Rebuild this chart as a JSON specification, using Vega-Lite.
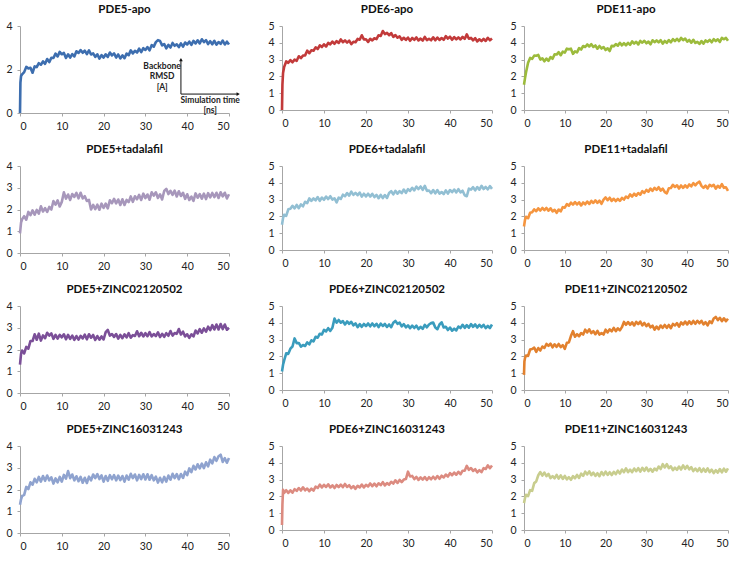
{
"$schema": "https://vega.github.io/schema/vega-lite/v6.json",
"padding": {"left": 5, "top": 3, "right": 4, "bottom": 2},
"config": {
 "view": {"stroke": null},
 "font": "Lato",
 "title": {"fontSize": 11.5, "fontWeight": "bold", "font": "Lato", "color": "#111", "offset": 6, "anchor": "middle"},
 "axis": {"grid": false, "title": null, "domainColor": "#a6a6a6", "tickColor": "#a6a6a6", "tickSize": 3, "labelFontSize": 10.5, "labelColor": "#222", "labelFont": "Lato"},
 "axisX": {"labelPadding": 5},
 "axisY": {"labelPadding": 5},
 "line": {"strokeWidth": 2.6, "strokeJoin": "round"}
},
"hconcat": [
 {"spacing": 11, "vconcat": [
  {"title": "PDE5-apo", "width": 209, "height": 87, "layer": [
   {"data": {"name": "d1"}, "mark": {"type": "line", "color": "#3d6eaf"}, "encoding": {"x": {"field": "t", "type": "quantitative", "scale": {"domain": [0, 50]}, "axis": {"values": [0,10,20,30,40,50]}}, "y": {"field": "r", "type": "quantitative", "scale": {"domain": [0, 4]}, "axis": {"values": [0,1,2,3,4]}}}},
   {"data": {"values": [{"x": 38.5, "y": 0.87, "y2": 2.45}]}, "mark": {"type": "rule", "color": "#111", "strokeWidth": 1}, "encoding": {"x": {"field": "x", "type": "quantitative", "scale": {"domain": [0, 50]}}, "y": {"field": "y", "type": "quantitative", "scale": {"domain": [0, 4]}}, "y2": {"field": "y2"}}},
   {"data": {"values": [{"x": 38.5, "x2": 52, "y": 0.87}]}, "mark": {"type": "rule", "color": "#111", "strokeWidth": 1}, "encoding": {"x": {"field": "x", "type": "quantitative", "scale": {"domain": [0, 50]}}, "x2": {"field": "x2"}, "y": {"field": "y", "type": "quantitative", "scale": {"domain": [0, 4]}}}},
   {"data": {"values": [{"x": 38.5, "y": 2.45}]}, "mark": {"type": "point", "shape": "triangle-up", "filled": true, "size": 14, "color": "#111", "opacity": 1}, "encoding": {"x": {"field": "x", "type": "quantitative", "scale": {"domain": [0, 50]}}, "y": {"field": "y", "type": "quantitative", "scale": {"domain": [0, 4]}}}},
   {"data": {"values": [{"x": 52.2, "y": 0.87}]}, "mark": {"type": "point", "shape": "triangle-right", "filled": true, "size": 14, "color": "#111", "opacity": 1}, "encoding": {"x": {"field": "x", "type": "quantitative", "scale": {"domain": [0, 50]}}, "y": {"field": "y", "type": "quantitative", "scale": {"domain": [0, 4]}}}},
   {"data": {"values": [{"x": 34, "y": 2.16, "txt": "Backbone"}, {"x": 34, "y": 1.68, "txt": "RMSD"}, {"x": 34, "y": 1.2, "txt": "[A]"}, {"x": 45.5, "y": 0.62, "txt": "Simulation time"}, {"x": 45.5, "y": 0.15, "txt": "[ns]"}]}, "mark": {"type": "text", "font": "Lato", "fontWeight": "bold", "fontSize": 8.5, "color": "#222"}, "encoding": {"x": {"field": "x", "type": "quantitative", "scale": {"domain": [0, 50]}}, "y": {"field": "y", "type": "quantitative", "scale": {"domain": [0, 4]}}, "text": {"field": "txt"}}}
  ]},
  {"title": "PDE5+tadalafil", "width": 209, "height": 87, "data": {"name": "d4"}, "mark": {"type": "line", "color": "#a797bb"}, "encoding": {"x": {"field": "t", "type": "quantitative", "scale": {"domain": [0, 50]}, "axis": {"values": [0,10,20,30,40,50]}}, "y": {"field": "r", "type": "quantitative", "scale": {"domain": [0, 4]}, "axis": {"values": [0,1,2,3,4]}}}},
  {"title": "PDE5+ZINC02120502", "width": 209, "height": 87, "data": {"name": "d7"}, "mark": {"type": "line", "color": "#7b4f98"}, "encoding": {"x": {"field": "t", "type": "quantitative", "scale": {"domain": [0, 50]}, "axis": {"values": [0,10,20,30,40,50]}}, "y": {"field": "r", "type": "quantitative", "scale": {"domain": [0, 4]}, "axis": {"values": [0,1,2,3,4]}}}},
  {"title": "PDE5+ZINC16031243", "width": 209, "height": 87, "data": {"name": "d10"}, "mark": {"type": "line", "color": "#8fa3cf"}, "encoding": {"x": {"field": "t", "type": "quantitative", "scale": {"domain": [0, 50]}, "axis": {"values": [0,10,20,30,40,50]}}, "y": {"field": "r", "type": "quantitative", "scale": {"domain": [0, 4]}, "axis": {"values": [0,1,2,3,4]}}}}
 ]},
 {"spacing": 15, "hconcat": [
  {"spacing": 14, "vconcat": [
   {"title": "PDE6-apo", "width": 210, "height": 84, "data": {"name": "d2"}, "mark": {"type": "line", "color": "#c23a3a"}, "encoding": {"x": {"field": "t", "type": "quantitative", "scale": {"domain": [0, 50]}, "axis": {"values": [0,10,20,30,40,50]}}, "y": {"field": "r", "type": "quantitative", "scale": {"domain": [0, 5]}, "axis": {"values": [0,1,2,3,4,5]}}}},
   {"title": "PDE6+tadalafil", "width": 210, "height": 84, "data": {"name": "d5"}, "mark": {"type": "line", "color": "#92bfd3"}, "encoding": {"x": {"field": "t", "type": "quantitative", "scale": {"domain": [0, 50]}, "axis": {"values": [0,10,20,30,40,50]}}, "y": {"field": "r", "type": "quantitative", "scale": {"domain": [0, 5]}, "axis": {"values": [0,1,2,3,4,5]}}}},
   {"title": "PDE6+ZINC02120502", "width": 210, "height": 84, "data": {"name": "d8"}, "mark": {"type": "line", "color": "#3a9cbd"}, "encoding": {"x": {"field": "t", "type": "quantitative", "scale": {"domain": [0, 50]}, "axis": {"values": [0,10,20,30,40,50]}}, "y": {"field": "r", "type": "quantitative", "scale": {"domain": [0, 5]}, "axis": {"values": [0,1,2,3,4,5]}}}},
   {"title": "PDE6+ZINC16031243", "width": 210, "height": 84, "data": {"name": "d11"}, "mark": {"type": "line", "color": "#dc8b80"}, "encoding": {"x": {"field": "t", "type": "quantitative", "scale": {"domain": [0, 50]}, "axis": {"values": [0,10,20,30,40,50]}}, "y": {"field": "r", "type": "quantitative", "scale": {"domain": [0, 5]}, "axis": {"values": [0,1,2,3,4,5]}}}}
  ]},
  {"spacing": 14, "vconcat": [
   {"title": "PDE11-apo", "width": 204, "height": 84, "data": {"name": "d3"}, "mark": {"type": "line", "color": "#9cbb3c"}, "encoding": {"x": {"field": "t", "type": "quantitative", "scale": {"domain": [0, 50]}, "axis": {"values": [0,10,20,30,40,50]}}, "y": {"field": "r", "type": "quantitative", "scale": {"domain": [0, 5]}, "axis": {"values": [0,1,2,3,4,5]}}}},
   {"title": "PDE11+tadalafil", "width": 204, "height": 84, "data": {"name": "d6"}, "mark": {"type": "line", "color": "#f5953f"}, "encoding": {"x": {"field": "t", "type": "quantitative", "scale": {"domain": [0, 50]}, "axis": {"values": [0,10,20,30,40,50]}}, "y": {"field": "r", "type": "quantitative", "scale": {"domain": [0, 5]}, "axis": {"values": [0,1,2,3,4,5]}}}},
   {"title": "PDE11+ZINC02120502", "width": 204, "height": 84, "data": {"name": "d9"}, "mark": {"type": "line", "color": "#e2812e"}, "encoding": {"x": {"field": "t", "type": "quantitative", "scale": {"domain": [0, 50]}, "axis": {"values": [0,10,20,30,40,50]}}, "y": {"field": "r", "type": "quantitative", "scale": {"domain": [0, 5]}, "axis": {"values": [0,1,2,3,4,5]}}}},
   {"title": "PDE11+ZINC16031243", "width": 204, "height": 84, "data": {"name": "d12"}, "mark": {"type": "line", "color": "#c8cd8e"}, "encoding": {"x": {"field": "t", "type": "quantitative", "scale": {"domain": [0, 50]}, "axis": {"values": [0,10,20,30,40,50]}}, "y": {"field": "r", "type": "quantitative", "scale": {"domain": [0, 5]}, "axis": {"values": [0,1,2,3,4,5]}}}}
  ]}
 ]}
],
"spacing": 27,
"datasets": {
"d1": [{"t":0,"r":0},{"t":0.1,"r":1.4},{"t":0.25,"r":1.7},{"t":0.5,"r":1.78},{"t":1,"r":1.88},{"t":1.5,"r":2.12},{"t":2,"r":2.05},{"t":2.5,"r":2.08},{"t":3,"r":1.85},{"t":3.5,"r":2.14},{"t":4,"r":2.11},{"t":4.5,"r":2.29},{"t":5,"r":2.22},{"t":5.5,"r":2.37},{"t":6,"r":2.26},{"t":6.5,"r":2.48},{"t":7,"r":2.34},{"t":7.5,"r":2.54},{"t":8,"r":2.53},{"t":8.5,"r":2.73},{"t":9,"r":2.6},{"t":9.5,"r":2.81},{"t":10,"r":2.7},{"t":10.5,"r":2.76},{"t":11,"r":2.53},{"t":11.5,"r":2.7},{"t":12,"r":2.55},{"t":12.5,"r":2.71},{"t":13,"r":2.6},{"t":13.5,"r":2.84},{"t":14,"r":2.76},{"t":14.5,"r":2.89},{"t":15,"r":2.77},{"t":15.5,"r":2.87},{"t":16,"r":2.71},{"t":16.5,"r":2.88},{"t":17,"r":2.69},{"t":17.5,"r":2.74},{"t":18,"r":2.58},{"t":18.5,"r":2.7},{"t":19,"r":2.5},{"t":19.5,"r":2.66},{"t":20,"r":2.55},{"t":20.5,"r":2.7},{"t":21,"r":2.58},{"t":21.5,"r":2.78},{"t":22,"r":2.65},{"t":22.5,"r":2.74},{"t":23,"r":2.55},{"t":23.5,"r":2.69},{"t":24,"r":2.51},{"t":24.5,"r":2.65},{"t":25,"r":2.52},{"t":25.5,"r":2.73},{"t":26,"r":2.66},{"t":26.5,"r":2.88},{"t":27,"r":2.74},{"t":27.5,"r":2.86},{"t":28,"r":2.78},{"t":28.5,"r":2.96},{"t":29,"r":2.8},{"t":29.5,"r":2.98},{"t":30,"r":2.9},{"t":30.5,"r":3.03},{"t":31,"r":2.88},{"t":31.5,"r":3.12},{"t":32,"r":3.05},{"t":32.5,"r":3.26},{"t":33,"r":3.35},{"t":33.5,"r":3.31},{"t":34,"r":3.11},{"t":34.5,"r":3.17},{"t":35,"r":2.97},{"t":35.5,"r":3.13},{"t":36,"r":3.01},{"t":36.5,"r":3.22},{"t":37,"r":3.09},{"t":37.5,"r":3.16},{"t":38,"r":3.03},{"t":38.5,"r":3.2},{"t":39,"r":3.05},{"t":39.5,"r":3.24},{"t":40,"r":3.15},{"t":40.5,"r":3.28},{"t":41,"r":3.13},{"t":41.5,"r":3.32},{"t":42,"r":3.2},{"t":42.5,"r":3.34},{"t":43,"r":3.2},{"t":43.5,"r":3.39},{"t":44,"r":3.26},{"t":44.5,"r":3.35},{"t":45,"r":3.17},{"t":45.5,"r":3.3},{"t":46,"r":3.16},{"t":46.5,"r":3.32},{"t":47,"r":3.14},{"t":47.5,"r":3.26},{"t":48,"r":3.18},{"t":48.5,"r":3.33},{"t":49,"r":3.15},{"t":49.5,"r":3.28},{"t":50,"r":3.15}],
"d2": [{"t":0,"r":0},{"t":0.1,"r":1.5},{"t":0.25,"r":2.2},{"t":0.5,"r":2.55},{"t":1,"r":2.89},{"t":1.5,"r":2.81},{"t":2,"r":2.97},{"t":2.5,"r":2.84},{"t":3,"r":3.0},{"t":3.5,"r":2.93},{"t":4,"r":3.2},{"t":4.5,"r":3.09},{"t":5,"r":3.24},{"t":5.5,"r":3.25},{"t":6,"r":3.53},{"t":6.5,"r":3.38},{"t":7,"r":3.56},{"t":7.5,"r":3.53},{"t":8,"r":3.73},{"t":8.5,"r":3.63},{"t":9,"r":3.85},{"t":9.5,"r":3.75},{"t":10,"r":3.91},{"t":10.5,"r":3.78},{"t":11,"r":3.99},{"t":11.5,"r":3.91},{"t":12,"r":4.07},{"t":12.5,"r":3.94},{"t":13,"r":4.1},{"t":13.5,"r":3.99},{"t":14,"r":4.2},{"t":14.5,"r":4.04},{"t":15,"r":4.14},{"t":15.5,"r":4.01},{"t":16,"r":4.13},{"t":16.5,"r":3.92},{"t":17,"r":4.06},{"t":17.5,"r":4.03},{"t":18,"r":4.23},{"t":18.5,"r":4.18},{"t":19,"r":4.45},{"t":19.5,"r":4.2},{"t":20,"r":4.21},{"t":20.5,"r":4.05},{"t":21,"r":4.24},{"t":21.5,"r":4.14},{"t":22,"r":4.27},{"t":22.5,"r":4.22},{"t":23,"r":4.45},{"t":23.5,"r":4.41},{"t":24,"r":4.7},{"t":24.5,"r":4.52},{"t":25,"r":4.59},{"t":25.5,"r":4.45},{"t":26,"r":4.58},{"t":26.5,"r":4.35},{"t":27,"r":4.46},{"t":27.5,"r":4.3},{"t":28,"r":4.38},{"t":28.5,"r":4.18},{"t":29,"r":4.3},{"t":29.5,"r":4.17},{"t":30,"r":4.31},{"t":30.5,"r":4.12},{"t":31,"r":4.29},{"t":31.5,"r":4.18},{"t":32,"r":4.32},{"t":32.5,"r":4.14},{"t":33,"r":4.25},{"t":33.5,"r":4.13},{"t":34,"r":4.35},{"t":34.5,"r":4.16},{"t":35,"r":4.24},{"t":35.5,"r":4.15},{"t":36,"r":4.33},{"t":36.5,"r":4.15},{"t":37,"r":4.31},{"t":37.5,"r":4.17},{"t":38,"r":4.28},{"t":38.5,"r":4.18},{"t":39,"r":4.4},{"t":39.5,"r":4.25},{"t":40,"r":4.36},{"t":40.5,"r":4.18},{"t":41,"r":4.34},{"t":41.5,"r":4.21},{"t":42,"r":4.32},{"t":42.5,"r":4.2},{"t":43,"r":4.35},{"t":43.5,"r":4.23},{"t":44,"r":4.5},{"t":44.5,"r":4.24},{"t":45,"r":4.29},{"t":45.5,"r":4.15},{"t":46,"r":4.28},{"t":46.5,"r":4.08},{"t":47,"r":4.21},{"t":47.5,"r":4.1},{"t":48,"r":4.23},{"t":48.5,"r":4.11},{"t":49,"r":4.3},{"t":49.5,"r":4.15},{"t":50,"r":4.26}],
"d3": [{"t":0,"r":1.5},{"t":0.25,"r":1.9},{"t":0.5,"r":2.25},{"t":1,"r":2.81},{"t":1.5,"r":3.1},{"t":2,"r":3.04},{"t":2.5,"r":3.24},{"t":3,"r":3.23},{"t":3.5,"r":3.28},{"t":4,"r":3.0},{"t":4.5,"r":3.08},{"t":5,"r":2.9},{"t":5.5,"r":3.06},{"t":6,"r":2.93},{"t":6.5,"r":3.15},{"t":7,"r":3.05},{"t":7.5,"r":3.31},{"t":8,"r":3.3},{"t":8.5,"r":3.44},{"t":9,"r":3.26},{"t":9.5,"r":3.47},{"t":10,"r":3.42},{"t":10.5,"r":3.65},{"t":11,"r":3.61},{"t":11.5,"r":3.65},{"t":12,"r":3.34},{"t":12.5,"r":3.49},{"t":13,"r":3.43},{"t":13.5,"r":3.68},{"t":14,"r":3.6},{"t":14.5,"r":3.81},{"t":15,"r":3.75},{"t":15.5,"r":3.9},{"t":16,"r":3.78},{"t":16.5,"r":3.92},{"t":17,"r":3.75},{"t":17.5,"r":3.84},{"t":18,"r":3.65},{"t":18.5,"r":3.81},{"t":19,"r":3.66},{"t":19.5,"r":3.75},{"t":20,"r":3.57},{"t":20.5,"r":3.67},{"t":21,"r":3.51},{"t":21.5,"r":3.82},{"t":22,"r":3.79},{"t":22.5,"r":3.92},{"t":23,"r":3.83},{"t":23.5,"r":4.0},{"t":24,"r":3.85},{"t":24.5,"r":3.98},{"t":25,"r":3.85},{"t":25.5,"r":4.0},{"t":26,"r":3.88},{"t":26.5,"r":4.08},{"t":27,"r":3.95},{"t":27.5,"r":4.06},{"t":28,"r":3.9},{"t":28.5,"r":4.11},{"t":29,"r":4.01},{"t":29.5,"r":4.12},{"t":30,"r":3.97},{"t":30.5,"r":4.07},{"t":31,"r":3.91},{"t":31.5,"r":4.15},{"t":32,"r":4.04},{"t":32.5,"r":4.14},{"t":33,"r":4.03},{"t":33.5,"r":4.16},{"t":34,"r":3.95},{"t":34.5,"r":4.11},{"t":35,"r":4.0},{"t":35.5,"r":4.16},{"t":36,"r":4.03},{"t":36.5,"r":4.22},{"t":37,"r":4.1},{"t":37.5,"r":4.24},{"t":38,"r":4.1},{"t":38.5,"r":4.29},{"t":39,"r":4.16},{"t":39.5,"r":4.25},{"t":40,"r":4.07},{"t":40.5,"r":4.17},{"t":41,"r":4.01},{"t":41.5,"r":4.18},{"t":42,"r":3.99},{"t":42.5,"r":4.06},{"t":43,"r":3.93},{"t":43.5,"r":4.1},{"t":44,"r":3.95},{"t":44.5,"r":4.14},{"t":45,"r":4.05},{"t":45.5,"r":4.18},{"t":46,"r":4.03},{"t":46.5,"r":4.22},{"t":47,"r":4.1},{"t":47.5,"r":4.21},{"t":48,"r":4.05},{"t":48.5,"r":4.29},{"t":49,"r":4.21},{"t":49.5,"r":4.29},{"t":50,"r":4.12}],
"d4": [{"t":0,"r":0.9},{"t":0.25,"r":1.4},{"t":0.5,"r":1.55},{"t":1,"r":1.69},{"t":1.5,"r":1.53},{"t":2,"r":1.89},{"t":2.5,"r":1.74},{"t":3,"r":1.96},{"t":3.5,"r":1.76},{"t":4,"r":1.98},{"t":4.5,"r":1.81},{"t":5,"r":2.15},{"t":5.5,"r":1.91},{"t":6,"r":2.06},{"t":6.5,"r":1.89},{"t":7,"r":2.12},{"t":7.5,"r":2.0},{"t":8,"r":2.39},{"t":8.5,"r":2.22},{"t":9,"r":2.42},{"t":9.5,"r":2.14},{"t":10,"r":2.35},{"t":10.5,"r":2.79},{"t":11,"r":2.5},{"t":11.5,"r":2.69},{"t":12,"r":2.44},{"t":12.5,"r":2.71},{"t":13,"r":2.58},{"t":13.5,"r":2.76},{"t":14,"r":2.51},{"t":14.5,"r":2.77},{"t":15,"r":2.51},{"t":15.5,"r":2.61},{"t":16,"r":2.39},{"t":16.5,"r":2.44},{"t":17,"r":2.0},{"t":17.5,"r":2.21},{"t":18,"r":2.02},{"t":18.5,"r":2.22},{"t":19,"r":1.99},{"t":19.5,"r":2.27},{"t":20,"r":2.07},{"t":20.5,"r":2.27},{"t":21,"r":2.05},{"t":21.5,"r":2.42},{"t":22,"r":2.29},{"t":22.5,"r":2.49},{"t":23,"r":2.28},{"t":23.5,"r":2.46},{"t":24,"r":2.21},{"t":24.5,"r":2.47},{"t":25,"r":2.21},{"t":25.5,"r":2.44},{"t":26,"r":2.34},{"t":26.5,"r":2.6},{"t":27,"r":2.35},{"t":27.5,"r":2.61},{"t":28,"r":2.47},{"t":28.5,"r":2.67},{"t":29,"r":2.44},{"t":29.5,"r":2.73},{"t":30,"r":2.52},{"t":30.5,"r":2.69},{"t":31,"r":2.45},{"t":31.5,"r":2.79},{"t":32,"r":2.64},{"t":32.5,"r":2.79},{"t":33,"r":2.53},{"t":33.5,"r":2.7},{"t":34,"r":2.46},{"t":34.5,"r":2.85},{"t":35,"r":2.95},{"t":35.5,"r":2.71},{"t":36,"r":2.86},{"t":36.5,"r":2.67},{"t":37,"r":2.87},{"t":37.5,"r":2.6},{"t":38,"r":2.84},{"t":38.5,"r":2.62},{"t":39,"r":2.77},{"t":39.5,"r":2.49},{"t":40,"r":2.7},{"t":40.5,"r":2.44},{"t":41,"r":2.59},{"t":41.5,"r":2.4},{"t":42,"r":2.74},{"t":42.5,"r":2.54},{"t":43,"r":2.71},{"t":43.5,"r":2.5},{"t":44,"r":2.73},{"t":44.5,"r":2.48},{"t":45,"r":2.75},{"t":45.5,"r":2.56},{"t":46,"r":2.76},{"t":46.5,"r":2.57},{"t":47,"r":2.77},{"t":47.5,"r":2.53},{"t":48,"r":2.79},{"t":48.5,"r":2.6},{"t":49,"r":2.77},{"t":49.5,"r":2.51},{"t":50,"r":2.7}],
"d5": [{"t":0,"r":1.5},{"t":0.25,"r":1.9},{"t":0.5,"r":2.1},{"t":1,"r":2.03},{"t":1.5,"r":2.42},{"t":2,"r":2.45},{"t":2.5,"r":2.63},{"t":3,"r":2.48},{"t":3.5,"r":2.68},{"t":4,"r":2.49},{"t":4.5,"r":2.71},{"t":5,"r":2.6},{"t":5.5,"r":2.87},{"t":6,"r":2.79},{"t":6.5,"r":3.07},{"t":7,"r":2.93},{"t":7.5,"r":3.07},{"t":8,"r":2.96},{"t":8.5,"r":3.15},{"t":9,"r":2.93},{"t":9.5,"r":3.12},{"t":10,"r":2.99},{"t":10.5,"r":3.18},{"t":11,"r":3.03},{"t":11.5,"r":3.2},{"t":12,"r":3.0},{"t":12.5,"r":3.08},{"t":13,"r":2.83},{"t":13.5,"r":3.12},{"t":14,"r":3.04},{"t":14.5,"r":3.29},{"t":15,"r":3.2},{"t":15.5,"r":3.39},{"t":16,"r":3.24},{"t":16.5,"r":3.47},{"t":17,"r":3.28},{"t":17.5,"r":3.4},{"t":18,"r":3.26},{"t":18.5,"r":3.42},{"t":19,"r":3.18},{"t":19.5,"r":3.35},{"t":20,"r":3.19},{"t":20.5,"r":3.35},{"t":21,"r":3.18},{"t":21.5,"r":3.34},{"t":22,"r":3.15},{"t":22.5,"r":3.28},{"t":23,"r":3.08},{"t":23.5,"r":3.28},{"t":24,"r":3.09},{"t":24.5,"r":3.27},{"t":25,"r":3.1},{"t":25.5,"r":3.39},{"t":26,"r":3.5},{"t":26.5,"r":3.31},{"t":27,"r":3.52},{"t":27.5,"r":3.35},{"t":28,"r":3.5},{"t":28.5,"r":3.39},{"t":29,"r":3.6},{"t":29.5,"r":3.4},{"t":30,"r":3.62},{"t":30.5,"r":3.52},{"t":31,"r":3.7},{"t":31.5,"r":3.55},{"t":32,"r":3.77},{"t":32.5,"r":3.63},{"t":33,"r":3.78},{"t":33.5,"r":3.58},{"t":34,"r":3.82},{"t":34.5,"r":3.52},{"t":35,"r":3.54},{"t":35.5,"r":3.38},{"t":36,"r":3.57},{"t":36.5,"r":3.37},{"t":37,"r":3.57},{"t":37.5,"r":3.35},{"t":38,"r":3.45},{"t":38.5,"r":3.33},{"t":39,"r":3.55},{"t":39.5,"r":3.36},{"t":40,"r":3.57},{"t":40.5,"r":3.44},{"t":41,"r":3.6},{"t":41.5,"r":3.43},{"t":42,"r":3.62},{"t":42.5,"r":3.43},{"t":43,"r":3.53},{"t":43.5,"r":3.26},{"t":44,"r":3.2},{"t":44.5,"r":3.65},{"t":45,"r":3.59},{"t":45.5,"r":3.74},{"t":46,"r":3.55},{"t":46.5,"r":3.75},{"t":47,"r":3.59},{"t":47.5,"r":3.82},{"t":48,"r":3.63},{"t":48.5,"r":3.75},{"t":49,"r":3.61},{"t":49.5,"r":3.8},{"t":50,"r":3.64}],
"d6": [{"t":0,"r":1.4},{"t":0.25,"r":1.8},{"t":0.5,"r":1.98},{"t":1,"r":1.89},{"t":1.5,"r":2.22},{"t":2,"r":2.25},{"t":2.5,"r":2.42},{"t":3,"r":2.31},{"t":3.5,"r":2.48},{"t":4,"r":2.35},{"t":4.5,"r":2.5},{"t":5,"r":2.37},{"t":5.5,"r":2.5},{"t":6,"r":2.34},{"t":6.5,"r":2.48},{"t":7,"r":2.3},{"t":7.5,"r":2.39},{"t":8,"r":2.21},{"t":8.5,"r":2.41},{"t":9,"r":2.3},{"t":9.5,"r":2.55},{"t":10,"r":2.52},{"t":10.5,"r":2.73},{"t":11,"r":2.64},{"t":11.5,"r":2.82},{"t":12,"r":2.7},{"t":12.5,"r":2.85},{"t":13,"r":2.71},{"t":13.5,"r":2.84},{"t":14,"r":2.65},{"t":14.5,"r":2.83},{"t":15,"r":2.72},{"t":15.5,"r":2.88},{"t":16,"r":2.74},{"t":16.5,"r":2.92},{"t":17,"r":2.8},{"t":17.5,"r":2.95},{"t":18,"r":2.81},{"t":18.5,"r":2.94},{"t":19,"r":2.75},{"t":19.5,"r":3.0},{"t":20,"r":3.13},{"t":20.5,"r":2.97},{"t":21,"r":3.11},{"t":21.5,"r":2.92},{"t":22,"r":3.05},{"t":22.5,"r":2.91},{"t":23,"r":3.04},{"t":23.5,"r":2.92},{"t":24,"r":3.1},{"t":24.5,"r":3.0},{"t":25,"r":3.18},{"t":25.5,"r":3.1},{"t":26,"r":3.31},{"t":26.5,"r":3.18},{"t":27,"r":3.35},{"t":27.5,"r":3.23},{"t":28,"r":3.39},{"t":28.5,"r":3.29},{"t":29,"r":3.5},{"t":29.5,"r":3.4},{"t":30,"r":3.58},{"t":30.5,"r":3.47},{"t":31,"r":3.66},{"t":31.5,"r":3.52},{"t":32,"r":3.7},{"t":32.5,"r":3.58},{"t":33,"r":3.74},{"t":33.5,"r":3.54},{"t":34,"r":3.65},{"t":34.5,"r":3.45},{"t":35,"r":3.37},{"t":35.5,"r":3.68},{"t":36,"r":3.69},{"t":36.5,"r":3.88},{"t":37,"r":3.75},{"t":37.5,"r":3.85},{"t":38,"r":3.66},{"t":38.5,"r":3.84},{"t":39,"r":3.7},{"t":39.5,"r":3.85},{"t":40,"r":3.72},{"t":40.5,"r":3.9},{"t":41,"r":3.79},{"t":41.5,"r":3.98},{"t":42,"r":3.85},{"t":42.5,"r":3.99},{"t":43,"r":4.07},{"t":43.5,"r":3.82},{"t":44,"r":3.7},{"t":44.5,"r":3.83},{"t":45,"r":3.67},{"t":45.5,"r":3.88},{"t":46,"r":3.79},{"t":46.5,"r":3.88},{"t":47,"r":3.65},{"t":47.5,"r":3.82},{"t":48,"r":3.71},{"t":48.5,"r":3.92},{"t":49,"r":3.7},{"t":49.5,"r":3.73},{"t":50,"r":3.52}],
"d7": [{"t":0,"r":1.3},{"t":0.25,"r":1.8},{"t":0.5,"r":1.95},{"t":1,"r":1.82},{"t":1.5,"r":2.12},{"t":2,"r":2.04},{"t":2.5,"r":2.39},{"t":3,"r":2.39},{"t":3.5,"r":2.7},{"t":4,"r":2.45},{"t":4.5,"r":2.73},{"t":5,"r":2.41},{"t":5.5,"r":2.65},{"t":6,"r":2.52},{"t":6.5,"r":2.77},{"t":7,"r":2.64},{"t":7.5,"r":2.74},{"t":8,"r":2.49},{"t":8.5,"r":2.67},{"t":9,"r":2.5},{"t":9.5,"r":2.67},{"t":10,"r":2.56},{"t":10.5,"r":2.7},{"t":11,"r":2.47},{"t":11.5,"r":2.67},{"t":12,"r":2.49},{"t":12.5,"r":2.64},{"t":13,"r":2.44},{"t":13.5,"r":2.62},{"t":14,"r":2.45},{"t":14.5,"r":2.63},{"t":15,"r":2.51},{"t":15.5,"r":2.68},{"t":16,"r":2.47},{"t":16.5,"r":2.7},{"t":17,"r":2.54},{"t":17.5,"r":2.67},{"t":18,"r":2.44},{"t":18.5,"r":2.62},{"t":19,"r":2.45},{"t":19.5,"r":2.6},{"t":20,"r":2.46},{"t":20.5,"r":2.8},{"t":21,"r":2.9},{"t":21.5,"r":2.64},{"t":22,"r":2.71},{"t":22.5,"r":2.58},{"t":23,"r":2.71},{"t":23.5,"r":2.5},{"t":24,"r":2.67},{"t":24.5,"r":2.52},{"t":25,"r":2.7},{"t":25.5,"r":2.56},{"t":26,"r":2.75},{"t":26.5,"r":2.54},{"t":27,"r":2.66},{"t":27.5,"r":2.62},{"t":28,"r":2.84},{"t":28.5,"r":2.61},{"t":29,"r":2.77},{"t":29.5,"r":2.6},{"t":30,"r":2.75},{"t":30.5,"r":2.61},{"t":31,"r":2.8},{"t":31.5,"r":2.6},{"t":32,"r":2.71},{"t":32.5,"r":2.62},{"t":33,"r":2.79},{"t":33.5,"r":2.57},{"t":34,"r":2.72},{"t":34.5,"r":2.58},{"t":35,"r":2.75},{"t":35.5,"r":2.63},{"t":36,"r":2.85},{"t":36.5,"r":2.64},{"t":37,"r":2.76},{"t":37.5,"r":2.72},{"t":38,"r":2.94},{"t":38.5,"r":2.69},{"t":39,"r":2.82},{"t":39.5,"r":2.6},{"t":40,"r":2.7},{"t":40.5,"r":2.53},{"t":41,"r":2.7},{"t":41.5,"r":2.6},{"t":42,"r":2.87},{"t":42.5,"r":2.74},{"t":43,"r":2.94},{"t":43.5,"r":2.77},{"t":44,"r":2.97},{"t":44.5,"r":2.82},{"t":45,"r":3.05},{"t":45.5,"r":2.89},{"t":46,"r":3.12},{"t":46.5,"r":2.92},{"t":47,"r":3.15},{"t":47.5,"r":2.92},{"t":48,"r":3.17},{"t":48.5,"r":2.94},{"t":49,"r":3.15},{"t":49.5,"r":2.91},{"t":50,"r":3.0}],
"d8": [{"t":0,"r":1.1},{"t":0.25,"r":1.5},{"t":0.5,"r":1.75},{"t":1,"r":2.18},{"t":1.5,"r":2.15},{"t":2,"r":2.46},{"t":2.5,"r":2.59},{"t":3,"r":3.07},{"t":3.5,"r":2.79},{"t":4,"r":2.8},{"t":4.5,"r":2.58},{"t":5,"r":2.68},{"t":5.5,"r":2.62},{"t":6,"r":2.83},{"t":6.5,"r":2.72},{"t":7,"r":2.96},{"t":7.5,"r":2.89},{"t":8,"r":3.17},{"t":8.5,"r":3.11},{"t":9,"r":3.35},{"t":9.5,"r":3.3},{"t":10,"r":3.58},{"t":10.5,"r":3.49},{"t":11,"r":3.68},{"t":11.5,"r":3.52},{"t":12,"r":3.71},{"t":12.5,"r":4.25},{"t":13,"r":4.01},{"t":13.5,"r":4.17},{"t":14,"r":4.01},{"t":14.5,"r":4.1},{"t":15,"r":3.9},{"t":15.5,"r":4.08},{"t":16,"r":3.94},{"t":16.5,"r":4.06},{"t":17,"r":3.85},{"t":17.5,"r":3.96},{"t":18,"r":3.74},{"t":18.5,"r":3.92},{"t":19,"r":3.76},{"t":19.5,"r":3.93},{"t":20,"r":3.8},{"t":20.5,"r":3.96},{"t":21,"r":3.79},{"t":21.5,"r":3.96},{"t":22,"r":3.8},{"t":22.5,"r":3.94},{"t":23,"r":3.74},{"t":23.5,"r":3.95},{"t":24,"r":3.81},{"t":24.5,"r":3.93},{"t":25,"r":3.75},{"t":25.5,"r":3.9},{"t":26,"r":3.74},{"t":26.5,"r":4.0},{"t":27,"r":4.11},{"t":27.5,"r":3.94},{"t":28,"r":4.01},{"t":28.5,"r":3.79},{"t":29,"r":3.92},{"t":29.5,"r":3.73},{"t":30,"r":3.85},{"t":30.5,"r":3.68},{"t":31,"r":3.83},{"t":31.5,"r":3.69},{"t":32,"r":3.83},{"t":32.5,"r":3.62},{"t":33,"r":3.76},{"t":33.5,"r":3.64},{"t":34,"r":3.87},{"t":34.5,"r":3.73},{"t":35,"r":3.9},{"t":35.5,"r":3.98},{"t":36,"r":4.01},{"t":36.5,"r":3.72},{"t":37,"r":3.62},{"t":37.5,"r":3.9},{"t":38,"r":4.03},{"t":38.5,"r":3.72},{"t":39,"r":3.76},{"t":39.5,"r":3.57},{"t":40,"r":3.72},{"t":40.5,"r":3.53},{"t":41,"r":3.65},{"t":41.5,"r":3.55},{"t":42,"r":3.78},{"t":42.5,"r":3.69},{"t":43,"r":3.88},{"t":43.5,"r":3.7},{"t":44,"r":3.86},{"t":44.5,"r":3.71},{"t":45,"r":3.92},{"t":45.5,"r":3.76},{"t":46,"r":3.9},{"t":46.5,"r":3.72},{"t":47,"r":3.88},{"t":47.5,"r":3.74},{"t":48,"r":3.88},{"t":48.5,"r":3.68},{"t":49,"r":3.81},{"t":49.5,"r":3.69},{"t":50,"r":3.9}],
"d9": [{"t":0,"r":0.9},{"t":0.1,"r":1.7},{"t":0.25,"r":1.9},{"t":0.5,"r":2.05},{"t":1,"r":2.03},{"t":1.5,"r":2.41},{"t":2,"r":2.44},{"t":2.5,"r":2.52},{"t":3,"r":2.27},{"t":3.5,"r":2.5},{"t":4,"r":2.35},{"t":4.5,"r":2.59},{"t":5,"r":2.5},{"t":5.5,"r":2.74},{"t":6,"r":2.63},{"t":6.5,"r":2.76},{"t":7,"r":2.54},{"t":7.5,"r":2.72},{"t":8,"r":2.57},{"t":8.5,"r":2.74},{"t":9,"r":2.55},{"t":9.5,"r":2.67},{"t":10,"r":2.45},{"t":10.5,"r":2.81},{"t":11,"r":2.83},{"t":11.5,"r":3.21},{"t":12,"r":3.5},{"t":12.5,"r":3.17},{"t":13,"r":3.32},{"t":13.5,"r":3.2},{"t":14,"r":3.39},{"t":14.5,"r":3.3},{"t":15,"r":3.59},{"t":15.5,"r":3.43},{"t":16,"r":3.61},{"t":16.5,"r":3.39},{"t":17,"r":3.5},{"t":17.5,"r":3.32},{"t":18,"r":3.52},{"t":18.5,"r":3.3},{"t":19,"r":3.39},{"t":19.5,"r":3.3},{"t":20,"r":3.59},{"t":20.5,"r":3.43},{"t":21,"r":3.61},{"t":21.5,"r":3.49},{"t":22,"r":3.7},{"t":22.5,"r":3.5},{"t":23,"r":3.67},{"t":23.5,"r":3.55},{"t":24,"r":3.74},{"t":24.5,"r":4.05},{"t":25,"r":3.88},{"t":25.5,"r":4.04},{"t":26,"r":3.88},{"t":26.5,"r":4.03},{"t":27,"r":3.84},{"t":27.5,"r":4.05},{"t":28,"r":3.92},{"t":28.5,"r":4.07},{"t":29,"r":3.85},{"t":29.5,"r":3.99},{"t":30,"r":3.8},{"t":30.5,"r":3.94},{"t":31,"r":3.73},{"t":31.5,"r":3.83},{"t":32,"r":3.59},{"t":32.5,"r":3.78},{"t":33,"r":3.62},{"t":33.5,"r":3.84},{"t":34,"r":3.7},{"t":34.5,"r":3.87},{"t":35,"r":3.7},{"t":35.5,"r":3.87},{"t":36,"r":3.68},{"t":36.5,"r":3.93},{"t":37,"r":3.84},{"t":37.5,"r":3.98},{"t":38,"r":3.77},{"t":38.5,"r":4.02},{"t":39,"r":3.9},{"t":39.5,"r":4.07},{"t":40,"r":3.9},{"t":40.5,"r":4.09},{"t":41,"r":3.93},{"t":41.5,"r":4.11},{"t":42,"r":3.94},{"t":42.5,"r":4.12},{"t":43,"r":3.97},{"t":43.5,"r":4.12},{"t":44,"r":3.9},{"t":44.5,"r":4.04},{"t":45,"r":3.85},{"t":45.5,"r":4.09},{"t":46,"r":3.98},{"t":46.5,"r":4.26},{"t":47,"r":4.35},{"t":47.5,"r":4.16},{"t":48,"r":4.3},{"t":48.5,"r":4.1},{"t":49,"r":4.27},{"t":49.5,"r":4.1},{"t":50,"r":4.24}],
"d10": [{"t":0,"r":1.3},{"t":0.25,"r":1.55},{"t":0.5,"r":1.7},{"t":1,"r":1.75},{"t":1.5,"r":2.12},{"t":2,"r":2.02},{"t":2.5,"r":2.33},{"t":3,"r":2.22},{"t":3.5,"r":2.49},{"t":4,"r":2.33},{"t":4.5,"r":2.58},{"t":5,"r":2.36},{"t":5.5,"r":2.62},{"t":6,"r":2.4},{"t":6.5,"r":2.64},{"t":7,"r":2.42},{"t":7.5,"r":2.56},{"t":8,"r":2.27},{"t":8.5,"r":2.51},{"t":9,"r":2.33},{"t":9.5,"r":2.58},{"t":10,"r":2.36},{"t":10.5,"r":2.67},{"t":11,"r":2.5},{"t":11.5,"r":2.85},{"t":12,"r":2.52},{"t":12.5,"r":2.69},{"t":13,"r":2.42},{"t":13.5,"r":2.61},{"t":14,"r":2.38},{"t":14.5,"r":2.58},{"t":15,"r":2.31},{"t":15.5,"r":2.54},{"t":16,"r":2.3},{"t":16.5,"r":2.59},{"t":17,"r":2.42},{"t":17.5,"r":2.69},{"t":18,"r":2.52},{"t":18.5,"r":2.71},{"t":19,"r":2.48},{"t":19.5,"r":2.65},{"t":20,"r":2.36},{"t":20.5,"r":2.62},{"t":21,"r":2.4},{"t":21.5,"r":2.66},{"t":22,"r":2.47},{"t":22.5,"r":2.66},{"t":23,"r":2.42},{"t":23.5,"r":2.64},{"t":24,"r":2.43},{"t":24.5,"r":2.62},{"t":25,"r":2.36},{"t":25.5,"r":2.64},{"t":26,"r":2.45},{"t":26.5,"r":2.72},{"t":27,"r":2.52},{"t":27.5,"r":2.69},{"t":28,"r":2.42},{"t":28.5,"r":2.67},{"t":29,"r":2.48},{"t":29.5,"r":2.7},{"t":30,"r":2.46},{"t":30.5,"r":2.7},{"t":31,"r":2.45},{"t":31.5,"r":2.66},{"t":32,"r":2.42},{"t":32.5,"r":2.59},{"t":33,"r":2.32},{"t":33.5,"r":2.54},{"t":34,"r":2.33},{"t":34.5,"r":2.58},{"t":35,"r":2.36},{"t":35.5,"r":2.64},{"t":36,"r":2.45},{"t":36.5,"r":2.72},{"t":37,"r":2.52},{"t":37.5,"r":2.71},{"t":38,"r":2.47},{"t":38.5,"r":2.71},{"t":39,"r":2.53},{"t":39.5,"r":2.82},{"t":40,"r":2.66},{"t":40.5,"r":2.97},{"t":41,"r":2.8},{"t":41.5,"r":3.09},{"t":42,"r":2.92},{"t":42.5,"r":3.16},{"t":43,"r":2.97},{"t":43.5,"r":3.19},{"t":44,"r":2.98},{"t":44.5,"r":3.25},{"t":45,"r":3.06},{"t":45.5,"r":3.37},{"t":46,"r":3.2},{"t":46.5,"r":3.49},{"t":47,"r":3.32},{"t":47.5,"r":3.53},{"t":48,"r":3.6},{"t":48.5,"r":3.27},{"t":49,"r":3.44},{"t":49.5,"r":3.23},{"t":50,"r":3.45}],
"d11": [{"t":0,"r":0.3},{"t":0.1,"r":1.5},{"t":0.25,"r":2.4},{"t":0.5,"r":2.2},{"t":1,"r":2.37},{"t":1.5,"r":2.21},{"t":2,"r":2.36},{"t":2.5,"r":2.22},{"t":3,"r":2.43},{"t":3.5,"r":2.33},{"t":4,"r":2.5},{"t":4.5,"r":2.35},{"t":5,"r":2.54},{"t":5.5,"r":2.36},{"t":6,"r":2.47},{"t":6.5,"r":2.31},{"t":7,"r":2.46},{"t":7.5,"r":2.35},{"t":8,"r":2.58},{"t":8.5,"r":2.5},{"t":9,"r":2.7},{"t":9.5,"r":2.53},{"t":10,"r":2.69},{"t":10.5,"r":2.56},{"t":11,"r":2.72},{"t":11.5,"r":2.53},{"t":12,"r":2.66},{"t":12.5,"r":2.5},{"t":13,"r":2.68},{"t":13.5,"r":2.55},{"t":14,"r":2.7},{"t":14.5,"r":2.55},{"t":15,"r":2.74},{"t":15.5,"r":2.56},{"t":16,"r":2.67},{"t":16.5,"r":2.49},{"t":17,"r":2.61},{"t":17.5,"r":2.45},{"t":18,"r":2.63},{"t":18.5,"r":2.53},{"t":19,"r":2.7},{"t":19.5,"r":2.53},{"t":20,"r":2.69},{"t":20.5,"r":2.59},{"t":21,"r":2.77},{"t":21.5,"r":2.61},{"t":22,"r":2.76},{"t":22.5,"r":2.6},{"t":23,"r":2.78},{"t":23.5,"r":2.67},{"t":24,"r":2.85},{"t":24.5,"r":2.65},{"t":25,"r":2.79},{"t":25.5,"r":2.69},{"t":26,"r":2.87},{"t":26.5,"r":2.76},{"t":27,"r":2.96},{"t":27.5,"r":2.8},{"t":28,"r":2.98},{"t":28.5,"r":2.85},{"t":29,"r":3.0},{"t":29.5,"r":3.03},{"t":30,"r":3.47},{"t":30.5,"r":3.19},{"t":31,"r":3.22},{"t":31.5,"r":3.03},{"t":32,"r":3.16},{"t":32.5,"r":2.98},{"t":33,"r":3.13},{"t":33.5,"r":3.0},{"t":34,"r":3.15},{"t":34.5,"r":2.98},{"t":35,"r":3.14},{"t":35.5,"r":3.02},{"t":36,"r":3.17},{"t":36.5,"r":3.03},{"t":37,"r":3.21},{"t":37.5,"r":3.05},{"t":38,"r":3.23},{"t":38.5,"r":3.13},{"t":39,"r":3.3},{"t":39.5,"r":3.18},{"t":40,"r":3.39},{"t":40.5,"r":3.26},{"t":41,"r":3.42},{"t":41.5,"r":3.29},{"t":42,"r":3.46},{"t":42.5,"r":3.32},{"t":43,"r":3.53},{"t":43.5,"r":3.53},{"t":44,"r":3.82},{"t":44.5,"r":3.58},{"t":45,"r":3.69},{"t":45.5,"r":3.52},{"t":46,"r":3.62},{"t":46.5,"r":3.43},{"t":47,"r":3.56},{"t":47.5,"r":3.45},{"t":48,"r":3.68},{"t":48.5,"r":3.63},{"t":49,"r":3.85},{"t":49.5,"r":3.68},{"t":50,"r":3.84}],
"d12": [{"t":0,"r":1.6},{"t":0.25,"r":1.9},{"t":0.5,"r":2.1},{"t":1,"r":2.02},{"t":1.5,"r":2.37},{"t":2,"r":2.33},{"t":2.5,"r":2.79},{"t":3,"r":2.89},{"t":3.5,"r":3.26},{"t":4,"r":3.45},{"t":4.5,"r":3.24},{"t":5,"r":3.42},{"t":5.5,"r":3.21},{"t":6,"r":3.34},{"t":6.5,"r":3.09},{"t":7,"r":3.21},{"t":7.5,"r":3.08},{"t":8,"r":3.28},{"t":8.5,"r":3.06},{"t":9,"r":3.25},{"t":9.5,"r":3.04},{"t":10,"r":3.22},{"t":10.5,"r":3.01},{"t":11,"r":3.14},{"t":11.5,"r":2.99},{"t":12,"r":3.21},{"t":12.5,"r":3.08},{"t":13,"r":3.28},{"t":13.5,"r":3.1},{"t":14,"r":3.35},{"t":14.5,"r":3.22},{"t":15,"r":3.47},{"t":15.5,"r":3.31},{"t":16,"r":3.49},{"t":16.5,"r":3.27},{"t":17,"r":3.41},{"t":17.5,"r":3.22},{"t":18,"r":3.38},{"t":18.5,"r":3.2},{"t":19,"r":3.45},{"t":19.5,"r":3.27},{"t":20,"r":3.47},{"t":20.5,"r":3.28},{"t":21,"r":3.44},{"t":21.5,"r":3.27},{"t":22,"r":3.46},{"t":22.5,"r":3.32},{"t":23,"r":3.53},{"t":23.5,"r":3.36},{"t":24,"r":3.6},{"t":24.5,"r":3.44},{"t":25,"r":3.67},{"t":25.5,"r":3.45},{"t":26,"r":3.59},{"t":26.5,"r":3.44},{"t":27,"r":3.66},{"t":27.5,"r":3.5},{"t":28,"r":3.68},{"t":28.5,"r":3.48},{"t":29,"r":3.7},{"t":29.5,"r":3.52},{"t":30,"r":3.72},{"t":30.5,"r":3.51},{"t":31,"r":3.64},{"t":31.5,"r":3.47},{"t":32,"r":3.66},{"t":32.5,"r":3.55},{"t":33,"r":3.78},{"t":33.5,"r":3.63},{"t":34,"r":3.92},{"t":34.5,"r":3.72},{"t":35,"r":3.92},{"t":35.5,"r":3.68},{"t":36,"r":3.79},{"t":36.5,"r":3.57},{"t":37,"r":3.71},{"t":37.5,"r":3.58},{"t":38,"r":3.78},{"t":38.5,"r":3.6},{"t":39,"r":3.85},{"t":39.5,"r":3.64},{"t":40,"r":3.82},{"t":40.5,"r":3.61},{"t":41,"r":3.74},{"t":41.5,"r":3.51},{"t":42,"r":3.66},{"t":42.5,"r":3.5},{"t":43,"r":3.68},{"t":43.5,"r":3.46},{"t":44,"r":3.65},{"t":44.5,"r":3.47},{"t":45,"r":3.67},{"t":45.5,"r":3.45},{"t":46,"r":3.59},{"t":46.5,"r":3.39},{"t":47,"r":3.56},{"t":47.5,"r":3.42},{"t":48,"r":3.63},{"t":48.5,"r":3.43},{"t":49,"r":3.65},{"t":49.5,"r":3.47},{"t":50,"r":3.67}]
}
}
